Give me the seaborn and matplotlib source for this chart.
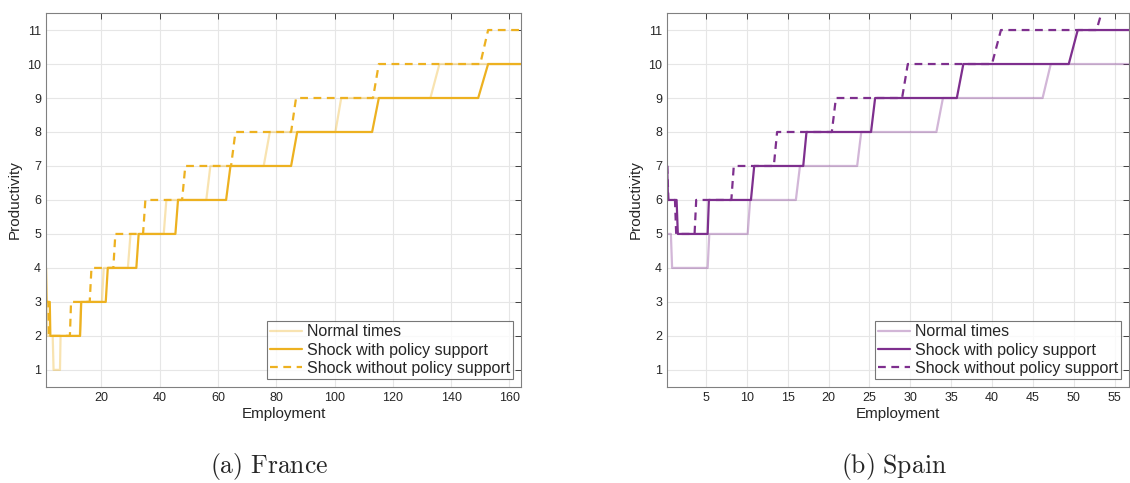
import numpy as np
import pandas as pd
import seaborn as sns
import matplotlib.pyplot as plt

# France: (employment, productivity) vertices
fr_normal_x = [1.0, 1.3, 1.5, 3.3, 3.6, 5.8, 6.0, 12.6, 13.0, 20.2, 20.8, 29.1, 30.0, 41.4, 42.3,
               56.0, 57.4, 75.7, 77.8, 100.3, 102.3, 132.9, 136.0, 165.0]
fr_normal_y = [3, 3, 2, 2, 1, 1, 2, 2, 3, 3, 4, 4, 5, 5, 6, 6, 7, 7, 8, 8, 9, 9, 10, 10]

fr_policy_x = [1.0, 1.2, 2.3, 2.5, 12.7, 13.1, 21.5, 22.2, 32.0, 32.8, 45.4, 46.3, 62.8, 64.3,
               85.1, 87.2, 112.9, 115.2, 149.3, 152.7, 165.0]
fr_policy_y = [4, 3, 3, 2, 2, 3, 3, 4, 4, 5, 5, 6, 6, 7, 7, 8, 8, 9, 9, 10, 10]

fr_nopolicy_x = [1.0, 1.8, 2.0, 9.2, 9.6, 16.0, 16.6, 24.1, 24.8, 34.3, 35.1, 47.7, 48.8, 64.5, 66.0,
                 85.1, 86.8, 113.2, 115.2, 150.0, 152.7, 165.0]
fr_nopolicy_y = [3, 3, 2, 2, 3, 3, 4, 4, 5, 5, 6, 6, 7, 7, 8, 8, 9, 9, 10, 10, 11, 11]

# Spain
es_normal_x = [0.25, 0.7, 0.85, 5.2, 5.4, 10.1, 10.4, 16.0, 16.5, 23.5, 24.0, 33.2, 34.0,
               46.2, 47.2, 58.0]
es_normal_y = [5, 5, 4, 4, 5, 5, 6, 6, 7, 7, 8, 8, 9, 9, 10, 10]

es_policy_x = [0.25, 0.35, 1.4, 1.55, 5.2, 5.35, 10.5, 10.9, 16.9, 17.3, 25.2, 25.7, 35.7, 36.5,
               49.4, 50.5, 58.0]
es_policy_y = [7, 6, 6, 5, 5, 6, 6, 7, 7, 8, 8, 9, 9, 10, 10, 11, 11]

es_nopolicy_x = [0.25, 0.4, 1.2, 1.35, 3.6, 3.8, 8.1, 8.4, 13.3, 13.7, 20.4, 20.9, 29.0, 29.7,
                 40.0, 41.1, 52.8, 54.0]
es_nopolicy_y = [7, 6, 6, 5, 5, 6, 6, 7, 7, 8, 8, 9, 9, 10, 10, 11, 11, 12]

labels = ['Normal times', 'Shock with policy support', 'Shock without policy support']

sns.set_style('white')
plt.rcParams['font.family'] = ['Liberation Sans', 'DejaVu Sans']
plt.rcParams['mathtext.fontset'] = 'cm'

fig = plt.figure(figsize=(11.3, 4.83), dpi=100)
ax_fr = fig.add_axes([0.0407, 0.199, 0.4204, 0.774])
ax_es = fig.add_axes([0.5903, 0.199, 0.4090, 0.774])

panels = [
    (ax_fr, '#EDB120', [(fr_normal_x, fr_normal_y), (fr_policy_x, fr_policy_y), (fr_nopolicy_x, fr_nopolicy_y)],
     (1, 164), np.arange(20, 161, 20), r'$\mathrm{(a)\ France}$', 0.238),
    (ax_es, '#7E2F8E', [(es_normal_x, es_normal_y), (es_policy_x, es_policy_y), (es_nopolicy_x, es_nopolicy_y)],
     (0.23, 56.8), np.arange(5, 56, 5), r'$\mathrm{(b)\ Spain}$', 0.791),
]

for ax, color, series, xlim, xticks, caption, cx in panels:
    styles = [dict(alpha=0.35, linestyle='-'), dict(alpha=1.0, linestyle='-'),
              dict(alpha=1.0, linestyle=(0, (3.5, 2.5)))]
    for (xs, ys), lab, st in zip(series, labels, styles):
        df = pd.DataFrame({'Employment': xs, 'Productivity': ys})
        sns.lineplot(data=df, x='Employment', y='Productivity', ax=ax, color=color, lw=1.6,
                     estimator=None, sort=False, label=lab, **st)
    ax.set_xlim(*xlim)
    ax.set_ylim(0.5, 11.5)
    ax.set_xticks(xticks)
    ax.set_yticks(np.arange(1, 12))
    ax.grid(True, color='#e6e6e6', lw=0.8)
    ax.tick_params(direction='in', length=4, labelsize=9, colors='#262626', top=True, right=True,
                   labeltop=False, labelright=False, width=0.6)
    for sp in ax.spines.values():
        sp.set_color('#808080')
        sp.set_linewidth(0.8)
    ax.set_xlabel('Employment', fontsize=11, labelpad=2)
    ax.set_ylabel('Productivity', fontsize=11, labelpad=4)
    leg = ax.legend(loc='lower right', fontsize=11.5, frameon=True, fancybox=False, handlelength=2.0,
                    handletextpad=0.3, borderpad=0.2, labelspacing=0.2, borderaxespad=0.5)
    leg.get_frame().set_edgecolor('#555555')
    leg.get_frame().set_linewidth(0.8)
    fig.text(cx, 0.035, caption, ha='center', va='center', fontsize=18.5)

fig.savefig('out.png', dpi=100)
